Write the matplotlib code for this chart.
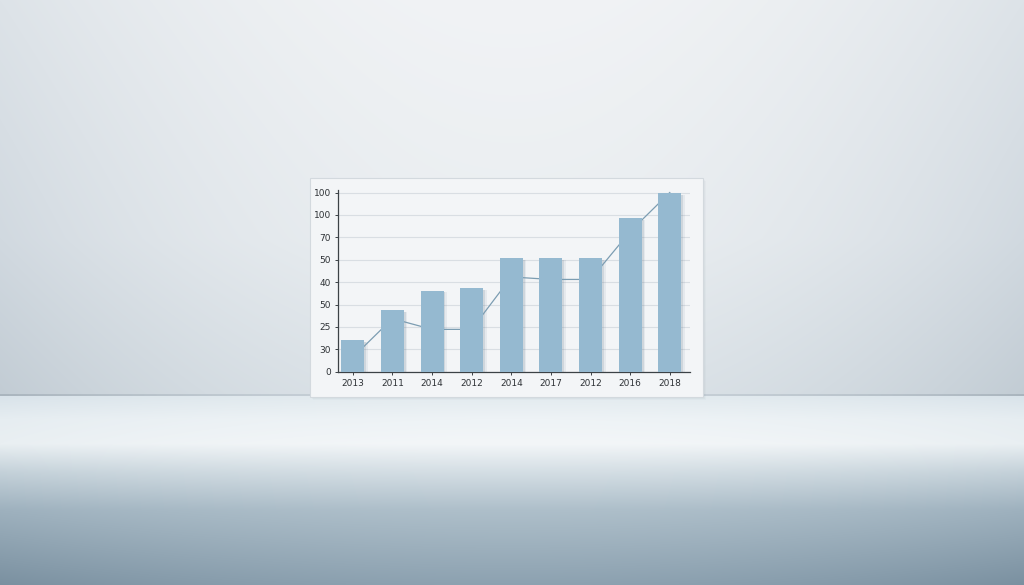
import numpy as np
import matplotlib
matplotlib.use("Agg")
import matplotlib.pyplot as plt
from matplotlib.patches import Rectangle

OUTPUT_FILE = "out.png"

# chart data (y values in grid steps)
years = ["2013", "2011", "2014", "2012", "2014", "2017", "2012", "2016", "2018"]
bar_values = [1.42, 2.75, 3.62, 3.72, 5.06, 5.06, 5.06, 6.85, 7.96]
line_values = [0.64, 2.37, 1.89, 1.89, 4.23, 4.12, 4.12, 6.26, 8.0]
ytick_labels = ["0", "30", "25", "50", "40", "50", "70", "100", "100"]

BAR_COLOR = "#95b9d0"
LINE_COLOR = "#7c9db2"
W, H = 1024, 585
HORIZON = 396


def rgb(c):
    return np.array(matplotlib.colors.to_rgb(c))


def ramp(t, stops, colors):
    # piecewise linear colour ramp along t
    t = np.clip(t, 0, 1)
    cols = np.array([rgb(c) for c in colors])
    return np.stack([np.interp(t, stops, cols[:, k]) for k in range(3)], axis=-1)


def make_background():
    yy, xx = np.mgrid[0:H, 0:W].astype(float)
    side = np.clip(((xx - W / 2) / (W / 2)) ** 2, 0, 1)[..., None]
    img = np.zeros((H, W, 3))

    # wall
    wy = yy / HORIZON
    w_center = ramp(wy, [0, 0.6, 1], ["#f1f3f5", "#eaeef1", "#dce3e8"])
    w_edge = ramp(wy, [0, 0.6, 1], ["#dde3e8", "#d1d9e0", "#c2ccd4"])
    wall_img = w_center * (1 - side) + w_edge * side
    wall = yy < HORIZON
    img[wall] = wall_img[wall]

    # floor: light band near the wall, darker toward the viewer
    fy = (yy - HORIZON) / (H - HORIZON)
    stops = [0, 0.12, 0.25, 0.4, 0.6, 1]
    f_center = ramp(fy, stops, ["#e3ebef", "#eef3f6", "#f3f6f8", "#d4dee4", "#aebfca", "#8ca1b0"])
    f_edge = ramp(fy, stops, ["#d9e3ea", "#e6edf1", "#e9eff2", "#c4d1d9", "#9eb1be", "#7a90a0"])
    floor_img = f_center * (1 - side) + f_edge * side
    floor = ~wall
    img[floor] = floor_img[floor]

    # thin darker seam where wall meets floor
    seam = (yy >= HORIZON - 2) & (yy < HORIZON)
    seam_img = ramp(side[..., 0], [0, 1], ["#c9d2d9", "#aab5be"])
    img[seam] = seam_img[seam]
    return img


fig = plt.figure(figsize=(W / 100, H / 100), dpi=100)

bg = fig.add_axes([0, 0, 1, 1])
bg.imshow(make_background(), aspect="auto", extent=(0, W, H, 0), interpolation="bilinear")
bg.set_xlim(0, W)
bg.set_ylim(H, 0)
bg.axis("off")

# card with a soft shadow
for i, a in enumerate([0.05, 0.04, 0.03]):
    bg.add_patch(Rectangle((310 + i + 1, 178 + i + 1), 393, 219, facecolor="#5a6b78",
                           alpha=a, edgecolor="none", zorder=1))
bg.add_patch(Rectangle((310, 178), 393, 219, facecolor="#f3f5f7",
                       edgecolor="#d3d9de", linewidth=0.8, zorder=2))

ax = fig.add_axes([337.7 / W, 1 - 371.7 / H, (690 - 337.7) / W, (371.7 - 190.3) / H])
ax.patch.set_alpha(0)

x = np.arange(len(years))
# soft bar shadows
for off, a in [(0.05, 0.18), (0.09, 0.10)]:
    ax.bar(x + off, np.array(bar_values) - 0.08, width=0.58, color="#6f8595", alpha=a,
           zorder=2, linewidth=0)
ax.plot(x, line_values, color=LINE_COLOR, linewidth=0.9, zorder=2.5)
ax.bar(x, bar_values, width=0.58, color=BAR_COLOR, zorder=3, linewidth=0)

ax.set_xlim(-0.38, 8.51)
ax.set_ylim(0, 8.1)
ax.set_yticks(range(len(ytick_labels)))
ax.set_yticklabels(ytick_labels)
ax.set_xticks(x)
ax.set_xticklabels(years)
ax.grid(axis="y", color="#d9dee3", linewidth=0.8, zorder=0)
ax.set_axisbelow(True)

for s in ["top", "right"]:
    ax.spines[s].set_visible(False)
for s in ["left", "bottom"]:
    ax.spines[s].set_color("#3c4246")
    ax.spines[s].set_linewidth(0.9)
ax.tick_params(axis="both", labelsize=6.5, labelcolor="#2e3236", color="#3c4246",
               length=2, width=0.7, pad=3)

plt.savefig(OUTPUT_FILE, dpi=100)
